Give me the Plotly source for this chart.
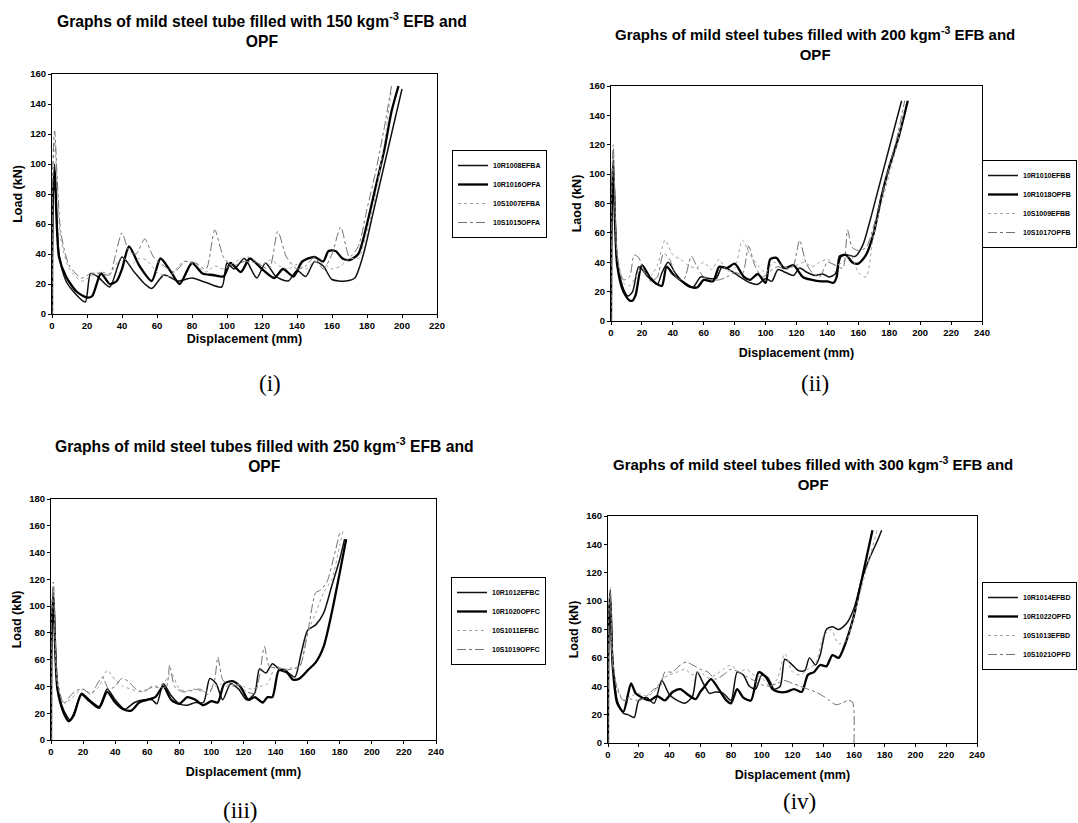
import plotly.graph_objects as go

# ---------------- Panel (i): 150 kgm-3 ----------------
p1_names = ["10R1008EFBA", "10R1016OPFA", "10S1007EFBA", "10S1015OPFA"]
p1_s1_x = [0, 0.5, 1.5, 4, 8, 13, 19, 22, 26, 33, 40, 47, 53, 57, 64, 72, 80, 88, 97, 100, 104, 110, 117, 122, 128, 135, 140, 145, 150, 155, 160, 168, 173, 178, 183, 188, 193, 197, 200]
p1_s1_y = [0, 70, 100, 40, 22, 14, 8, 27, 25, 18, 38, 28, 20, 17, 26, 22, 24, 21, 18, 34, 30, 37, 24, 34, 25, 22, 29, 25, 35, 32, 23, 22, 24, 40, 65, 90, 115, 135, 150]
p1_s2_x = [0, 0.5, 1.5, 4, 8, 14, 20, 23, 28, 33, 37, 40, 44, 50, 57, 62, 68, 73, 80, 86, 92, 98, 102, 108, 113, 120, 127, 132, 138, 143, 150, 155, 158, 162, 166, 170, 175, 180, 185, 190, 194, 198]
p1_s2_y = [0, 80, 95, 38, 25, 15, 11, 12, 27, 20, 22, 30, 45, 32, 22, 37, 28, 20, 34, 27, 26, 25, 34, 28, 37, 30, 24, 30, 25, 35, 38, 35, 42, 42, 37, 36, 40, 60, 85, 110, 135, 152]
p1_s3_x = [0, 0.5, 1.5, 5, 10, 17, 22, 28, 33, 40, 45, 50, 54, 60, 67, 75, 82, 88, 93, 98, 105, 112, 120, 125, 130, 135, 140, 145, 150, 155, 160, 165, 170, 175, 180, 185, 190, 194]
p1_s3_y = [0, 90, 115, 50, 30, 22, 25, 28, 27, 38, 33, 37, 36, 28, 25, 35, 33, 28, 32, 30, 35, 38, 33, 36, 32, 30, 33, 30, 35, 34, 30, 32, 37, 37, 55, 80, 115, 150]
p1_s4_x = [0, 0.5, 1.5, 5, 10, 17, 22, 28, 33, 36, 40, 44, 48, 53, 58, 64, 70, 76, 82, 88, 93, 98, 103, 110, 117, 124, 129, 134, 140, 145, 150, 155, 160, 165, 170, 175, 180, 185, 190, 194]
p1_s4_y = [0, 100, 122, 55, 32, 24, 27, 27, 26, 38, 54, 42, 40, 50, 38, 32, 28, 35, 34, 30, 56, 38, 32, 35, 34, 30, 55, 38, 30, 32, 38, 30, 40, 58, 38, 45, 70, 95, 125, 152]

# ---------------- Panel (ii): 200 kgm-3 ----------------
p2_names = ["10R1010EFBB", "10R1018OPFB", "10S1009EFBB", "10S1017OPFB"]
p2_s1_x = [0, 0.5, 1.5, 4, 8, 11, 14, 18, 24, 30, 33, 37, 42, 48, 53, 58, 63, 68, 72, 78, 85, 90, 95, 100, 104, 108, 113, 118, 122, 127, 132, 137, 141, 145, 149, 153, 158, 163, 168, 173, 178, 183, 188]
p2_s1_y = [0, 85, 110, 40, 22, 17, 20, 37, 30, 25, 33, 40, 32, 25, 23, 30, 29, 29, 37, 34, 29, 26, 25, 29, 27, 35, 33, 31, 36, 33, 31, 32, 30, 32, 44, 45, 44, 52, 70, 90, 110, 130, 150]
p2_s2_x = [0, 0.5, 1.5, 4, 8, 12, 14, 16, 20, 25, 30, 33, 36, 40, 46, 52, 56, 60, 66, 70, 75, 80, 86, 90, 95, 100, 103, 107, 112, 118, 124, 130, 136, 140, 144, 146, 148, 152, 156, 160, 165, 170, 175, 180, 186, 192]
p2_s2_y = [0, 75, 100, 38, 20, 14, 14, 18, 38, 30, 25, 24, 37, 32, 27, 23, 23, 28, 27, 37, 36, 39, 30, 28, 32, 26, 42, 43, 36, 38, 30, 28, 27, 27, 26, 30, 44, 45, 40, 39, 45, 60, 85, 105, 125, 150]
p2_s3_x = [0, 0.5, 1.5, 4, 8, 12, 16, 20, 25, 30, 35, 40, 45, 50, 55, 60, 65, 70, 75, 80, 85, 90, 95, 100, 105, 110, 115, 120, 125, 130, 135, 140, 145, 150, 155, 160, 165, 170, 175, 180, 185, 190]
p2_s3_y = [0, 90, 115, 45, 26, 24, 30, 36, 30, 38, 55, 45, 42, 38, 36, 40, 35, 42, 34, 36, 55, 45, 38, 33, 40, 38, 36, 38, 40, 37, 40, 42, 38, 40, 45, 33, 30, 60, 80, 100, 120, 145]
p2_s4_x = [0, 0.5, 1.5, 4, 8, 12, 15, 18, 22, 26, 30, 34, 38, 42, 47, 52, 56, 60, 65, 70, 75, 80, 85, 89, 93, 98, 103, 108, 113, 118, 122, 126, 130, 135, 140, 145, 150, 153, 156, 160, 165, 170, 175, 180, 185, 190]
p2_s4_y = [0, 95, 120, 45, 28, 30, 45, 43, 32, 27, 30, 46, 42, 30, 28, 44, 36, 30, 28, 28, 30, 33, 32, 51, 38, 30, 34, 37, 35, 38, 55, 40, 33, 30, 40, 38, 36, 62, 50, 48, 50, 65, 85, 105, 125, 150]

# ---------------- Panel (iii): 250 kgm-3 ----------------
p3_names = ["10R1012EFBC", "10R1020OPFC", "10S1011EFBC", "10S1019OPFC"]
p3_s1_x = [0, 0.5, 1.5, 4, 8, 12, 15, 19, 24, 30, 35, 40, 46, 52, 58, 63, 66, 70, 75, 80, 85, 90, 95, 99, 103, 107, 112, 117, 122, 127, 130, 134, 138, 143, 148, 152, 156, 160, 165, 170, 175, 180, 183]
p3_s1_y = [0, 90, 110, 40, 22, 15, 22, 35, 30, 25, 38, 30, 23, 28, 30, 30, 27, 42, 33, 27, 26, 28, 28, 46, 42, 30, 42, 38, 30, 35, 53, 50, 57, 52, 50, 47, 65, 82, 86, 95, 115, 135, 150]
p3_s2_x = [0, 0.5, 1.5, 4, 8, 11, 14, 19, 24, 30, 35, 40, 45, 50, 55, 60, 65, 70, 75, 80, 85, 90, 95, 100, 104, 108, 113, 118, 123, 127, 132, 135, 138, 142, 146, 151, 155, 160, 165, 170, 175, 180, 184]
p3_s2_y = [0, 85, 105, 38, 20, 14, 18, 34, 29, 24, 36, 28, 23, 22, 28, 30, 32, 40, 30, 27, 32, 30, 26, 29, 28, 42, 44, 40, 30, 32, 28, 32, 32, 52, 52, 45, 46, 52, 58, 70, 95, 125, 150]
p3_s3_x = [0, 0.5, 1.5, 4, 8, 12, 16, 20, 25, 30, 35, 40, 45, 50, 55, 60, 65, 70, 75, 80, 85, 90, 95, 100, 105, 110, 115, 120, 125, 130, 135, 140, 145, 150, 155, 160, 165, 170, 175, 180, 182]
p3_s3_y = [0, 95, 115, 42, 28, 30, 35, 38, 35, 40, 52, 45, 40, 38, 36, 38, 40, 42, 50, 38, 37, 38, 36, 38, 42, 40, 42, 40, 38, 40, 42, 55, 53, 54, 55, 80, 95, 110, 120, 145, 156]
p3_s4_x = [0, 0.5, 1.5, 4, 8, 12, 16, 20, 25, 28, 32, 36, 40, 44, 48, 53, 58, 63, 68, 72, 74, 77, 82, 88, 93, 98, 102, 104, 107, 112, 117, 122, 127, 130, 133, 136, 140, 145, 150, 155, 160, 165, 168, 172, 176, 180]
p3_s4_y = [0, 100, 118, 45, 27, 33, 37, 38, 34, 40, 47, 38, 40, 46, 44, 38, 36, 40, 39, 40, 56, 40, 36, 37, 38, 34, 45, 62, 45, 40, 41, 36, 35, 48, 70, 55, 54, 52, 53, 55, 80, 110, 112, 118, 135, 155]

# ---------------- Panel (iv): 300 kgm-3 ----------------
p4_names = ["10R1014EFBD", "10R1022OPFD", "10S1013EFBD", "10S1021OPFD"]
p4_s1_x = [0, 0.5, 1.5, 3, 6, 10, 13, 17, 20, 25, 30, 35, 40, 45, 50, 55, 58, 62, 66, 70, 75, 80, 84, 88, 92, 96, 100, 104, 108, 112, 115, 119, 124, 128, 131, 135, 138, 142, 146, 150, 155, 160, 165, 170, 175, 178]
p4_s1_y = [0, 90, 108, 60, 30, 21, 20, 18, 30, 32, 28, 44, 34, 30, 28, 33, 50, 42, 35, 36, 35, 30, 50, 48, 40, 38, 48, 46, 38, 40, 59, 56, 51, 51, 60, 55, 62, 80, 82, 80, 84, 95, 115, 130, 142, 150]
p4_s2_x = [0, 0.5, 1.5, 3, 6, 10, 15, 18, 22, 27, 32, 37, 42, 47, 52, 57, 60, 63, 67, 72, 77, 80, 84, 88, 93, 98, 103, 107, 111, 116, 121, 126, 130, 134, 138, 142, 146, 150, 155, 160, 164, 168, 172]
p4_s2_y = [0, 85, 100, 55, 28, 22, 42, 35, 32, 30, 33, 30, 36, 38, 34, 31, 36, 40, 45, 38, 30, 28, 38, 32, 30, 50, 46, 38, 36, 36, 38, 36, 48, 50, 55, 54, 62, 60, 72, 90, 110, 130, 150]
p4_s3_x = [0, 0.5, 1.5, 3, 6, 10, 15, 20, 25, 30, 35, 40, 45, 50, 55, 60, 65, 70, 75, 80, 85, 90, 95, 100, 105, 110, 115, 120, 125, 130, 135, 140, 145, 150, 155, 160, 165, 170, 175]
p4_s3_y = [0, 95, 110, 60, 40, 30, 33, 35, 33, 36, 45, 48, 50, 52, 48, 50, 46, 48, 52, 55, 50, 52, 48, 46, 40, 45, 63, 50, 48, 52, 56, 75, 80, 70, 72, 90, 110, 130, 150]
p4_s4_x = [0, 0.5, 1.5, 3, 6, 10, 15, 20, 25, 30, 34, 37, 42, 47, 51, 55, 60, 65, 70, 75, 80, 85, 90, 95, 100, 105, 110, 115, 120, 125, 130, 135, 140, 144, 148, 152, 156, 159, 160]
p4_s4_y = [0, 88, 105, 55, 38, 30, 31, 30, 33, 38, 40, 50, 50, 55, 57, 55, 52, 50, 45, 48, 52, 50, 47, 44, 41, 40, 42, 44, 42, 40, 38, 36, 33, 30, 27, 28, 30, 29, 0]

titles = [
    "Graphs of mild steel tube filled with 150 kgm<sup>-3</sup> EFB and<br>OPF",
    "Graphs of mild steel tubes filled with 200 kgm<sup>-3</sup> EFB and<br>OPF",
    "Graphs of mild steel tubes filled with 250 kgm<sup>-3</sup> EFB and<br>OPF",
    "Graphs of mild steel tubes filled with 300 kgm<sup>-3</sup> EFB and<br>OPF",
]
ytitles = ["Load (kN)", "Laod (kN)", "Load (kN)", "Load (kN)"]
xtitle = "Displacement (mm)"
panel_labels = ["(i)", "(ii)", "(iii)", "(iv)"]
xranges = [[0, 220], [0, 240], [0, 240], [0, 240]]
yranges = [[0, 160], [0, 160], [0, 180], [0, 160]]

panels = [
    (p1_names, [(p1_s1_x, p1_s1_y), (p1_s2_x, p1_s2_y), (p1_s3_x, p1_s3_y), (p1_s4_x, p1_s4_y)]),
    (p2_names, [(p2_s1_x, p2_s1_y), (p2_s2_x, p2_s2_y), (p2_s3_x, p2_s3_y), (p2_s4_x, p2_s4_y)]),
    (p3_names, [(p3_s1_x, p3_s1_y), (p3_s2_x, p3_s2_y), (p3_s3_x, p3_s3_y), (p3_s4_x, p3_s4_y)]),
    (p4_names, [(p4_s1_x, p4_s1_y), (p4_s2_x, p4_s2_y), (p4_s3_x, p4_s3_y), (p4_s4_x, p4_s4_y)]),
]

W, H = 1078, 823
def px(x):
    return x / W
def py(y):
    return 1 - y / H

# plot-area pixel boxes (left, right, top, bottom)
boxes = [(52, 437, 74, 314), (611, 982, 86, 321), (51, 436, 499, 740), (608, 977, 516, 743)]
title_pos = [(262, 30), (815, 43), (264, 455), (813, 474)]
title_size = [15.7, 15, 15.7, 15]
xtitle_standoff = [3, 10, 10, 10]
label_pos = [(270, 383), (815, 383), (240, 810), (800, 801)]
# (x, y-centre, anchor)
legend_pos = [(452, 194, "left"), (1077, 204, "right"), (451, 621, "left"), (1077, 626, "right")]

styles = [
    dict(color="#111111", width=1.5, dash="solid"),
    dict(color="#000000", width=2.3, dash="solid"),
    dict(color="#a0a0a0", width=1.0, dash="dot"),
    dict(color="#707070", width=1.0, dash="dashdot"),
]

FONT = "Liberation Sans, Arial, sans-serif"
fig = go.Figure()
annotations = []
layout_axes = {}

for i, (names, series) in enumerate(panels):
    k = i + 1
    xa = "x" if k == 1 else f"x{k}"
    ya = "y" if k == 1 else f"y{k}"
    leg = "legend" if k == 1 else f"legend{k}"
    for j, ((xs, ys), name) in enumerate(zip(series, names)):
        fig.add_trace(go.Scatter(
            x=xs, y=ys, mode="lines", name=name,
            line=dict(shape="spline", smoothing=0.7, **styles[j]),
            xaxis=xa, yaxis=ya, legend=leg, showlegend=True,
        ))
    l, r, t, b = boxes[i]
    axis_common = dict(showline=True, linecolor="black", linewidth=1, mirror=True,
                       ticks="outside", ticklen=3, tickcolor="black", showgrid=False,
                       zeroline=False, automargin=False,
                       tickfont=dict(family=FONT, size=9.5, color="black", weight="bold"))
    xkey = "xaxis" if k == 1 else f"xaxis{k}"
    ykey = "yaxis" if k == 1 else f"yaxis{k}"
    layout_axes[xkey] = dict(domain=[px(l), px(r)], anchor=ya, range=xranges[i], dtick=20,
                             title=dict(text=xtitle, standoff=xtitle_standoff[i],
                                        font=dict(family=FONT, size=12.5, color="black", weight="bold")),
                             **axis_common)
    layout_axes[ykey] = dict(domain=[py(b), py(t)], anchor=xa, range=yranges[i], dtick=20,
                             title=dict(text=ytitles[i], standoff=4,
                                        font=dict(family=FONT, size=12.5, color="black", weight="bold")),
                             **axis_common)
    lx, ly, anc = legend_pos[i]
    layout_axes[leg] = dict(x=px(lx), y=py(ly), xanchor=anc, yanchor="middle",
                            bordercolor="black", borderwidth=1, bgcolor="white",
                            font=dict(family=FONT, size=7, color="black", weight="bold"),
                            itemwidth=30, tracegroupgap=0)
    tx, ty = title_pos[i]
    annotations.append(dict(text=titles[i], x=px(tx), y=py(ty), xref="paper", yref="paper",
                            showarrow=False, xanchor="center", yanchor="middle",
                            font=dict(family=FONT, size=title_size[i], color="black", weight="bold")))
    lbx, lby = label_pos[i]
    annotations.append(dict(text=panel_labels[i], x=px(lbx), y=py(lby), xref="paper", yref="paper",
                            showarrow=False, xanchor="center", yanchor="middle",
                            font=dict(family="Liberation Serif, DejaVu Serif, serif", size=23, color="black")))

fig.update_layout(
    width=W, height=H, margin=dict(l=0, r=0, t=0, b=0),
    paper_bgcolor="white", plot_bgcolor="white",
    annotations=annotations, showlegend=True,
    **layout_axes,
)

fig.write_html("out.html", config={"displayModeBar": False},
               post_script="document.body.style.margin='0';document.body.style.overflow='hidden';")
